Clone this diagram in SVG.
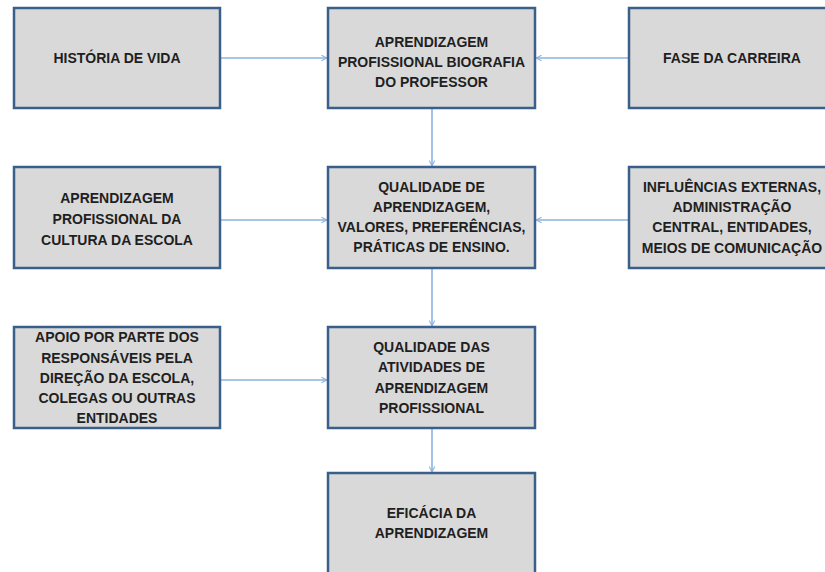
<svg xmlns="http://www.w3.org/2000/svg" width="825" height="572" viewBox="0 0 825 572">
<defs>
<marker id="arr" viewBox="0 0 10 10" refX="9" refY="5" markerWidth="7" markerHeight="7" orient="auto" markerUnits="userSpaceOnUse">
<path d="M1,1 L9,5 L1,9" fill="none" stroke="#8db2e0" stroke-width="1.5"/>
</marker>
<style>
.box{fill:#d9d9d9;stroke:#3a5f8b;stroke-width:2.5}
.t{font-family:"Liberation Sans",Arial,sans-serif;font-weight:bold;font-size:14px;fill:#1f1f1f;text-anchor:middle}
.c{stroke:#8db2e0;stroke-width:1.6;fill:none;marker-end:url(#arr)}
</style>
</defs>
<rect width="825" height="572" fill="#ffffff"/>
<g id="connectors">
<line class="c" x1="221" y1="58" x2="327" y2="58"/>
<line class="c" x1="628" y1="58" x2="536" y2="58"/>
<line class="c" x1="432" y1="109" x2="432" y2="166"/>
<line class="c" x1="221" y1="220" x2="327" y2="220"/>
<line class="c" x1="628" y1="220" x2="536" y2="220"/>
<line class="c" x1="432" y1="269" x2="432" y2="326"/>
<line class="c" x1="221" y1="380" x2="327" y2="380"/>
<line class="c" x1="432" y1="429" x2="432" y2="472"/>
</g>
<g id="historia">
<rect class="box" x="14" y="8" width="206" height="100"/>
<text class="t" x="117" y="63">HISTÓRIA DE VIDA</text>
</g>
<g id="biografia">
<rect class="box" x="328" y="8" width="207" height="100"/>
<text class="t" x="431.5" y="47">APRENDIZAGEM</text>
<text class="t" x="431.5" y="67">PROFISSIONAL BIOGRAFIA</text>
<text class="t" x="431.5" y="87">DO PROFESSOR</text>
</g>
<g id="fase">
<rect class="box" x="629" y="8" width="206" height="100"/>
<text class="t" x="732" y="63">FASE DA CARREIRA</text>
</g>
<g id="cultura">
<rect class="box" x="14" y="167" width="206" height="101"/>
<text class="t" x="117" y="203">APRENDIZAGEM</text>
<text class="t" x="117" y="224">PROFISSIONAL DA</text>
<text class="t" x="117" y="245">CULTURA DA ESCOLA</text>
</g>
<g id="qualidade">
<rect class="box" x="328" y="167" width="207" height="101"/>
<text class="t" x="431.5" y="192">QUALIDADE DE</text>
<text class="t" x="431.5" y="212">APRENDIZAGEM,</text>
<text class="t" x="431.5" y="232">VALORES, PREFERÊNCIAS,</text>
<text class="t" x="431.5" y="252">PRÁTICAS DE ENSINO.</text>
</g>
<g id="influencias">
<rect class="box" x="629" y="167" width="206" height="101"/>
<text class="t" x="732" y="192">INFLUÊNCIAS EXTERNAS,</text>
<text class="t" x="732" y="212">ADMINISTRAÇÃO</text>
<text class="t" x="732" y="232">CENTRAL, ENTIDADES,</text>
<text class="t" x="732" y="253">MEIOS DE COMUNICAÇÃO</text>
</g>
<g id="apoio">
<rect class="box" x="14" y="327" width="206" height="101"/>
<text class="t" x="117" y="342">APOIO POR PARTE DOS</text>
<text class="t" x="117" y="363">RESPONSÁVEIS PELA</text>
<text class="t" x="117" y="383">DIREÇÃO DA ESCOLA,</text>
<text class="t" x="117" y="403">COLEGAS OU OUTRAS</text>
<text class="t" x="117" y="423">ENTIDADES</text>
</g>
<g id="atividades">
<rect class="box" x="328" y="327" width="207" height="101"/>
<text class="t" x="431.5" y="352">QUALIDADE DAS</text>
<text class="t" x="431.5" y="372">ATIVIDADES DE</text>
<text class="t" x="431.5" y="393">APRENDIZAGEM</text>
<text class="t" x="431.5" y="413">PROFISSIONAL</text>
</g>
<g id="eficacia">
<rect class="box" x="328" y="473" width="207" height="110"/>
<text class="t" x="431.5" y="518">EFICÁCIA DA</text>
<text class="t" x="431.5" y="538">APRENDIZAGEM</text>
</g>
</svg>
